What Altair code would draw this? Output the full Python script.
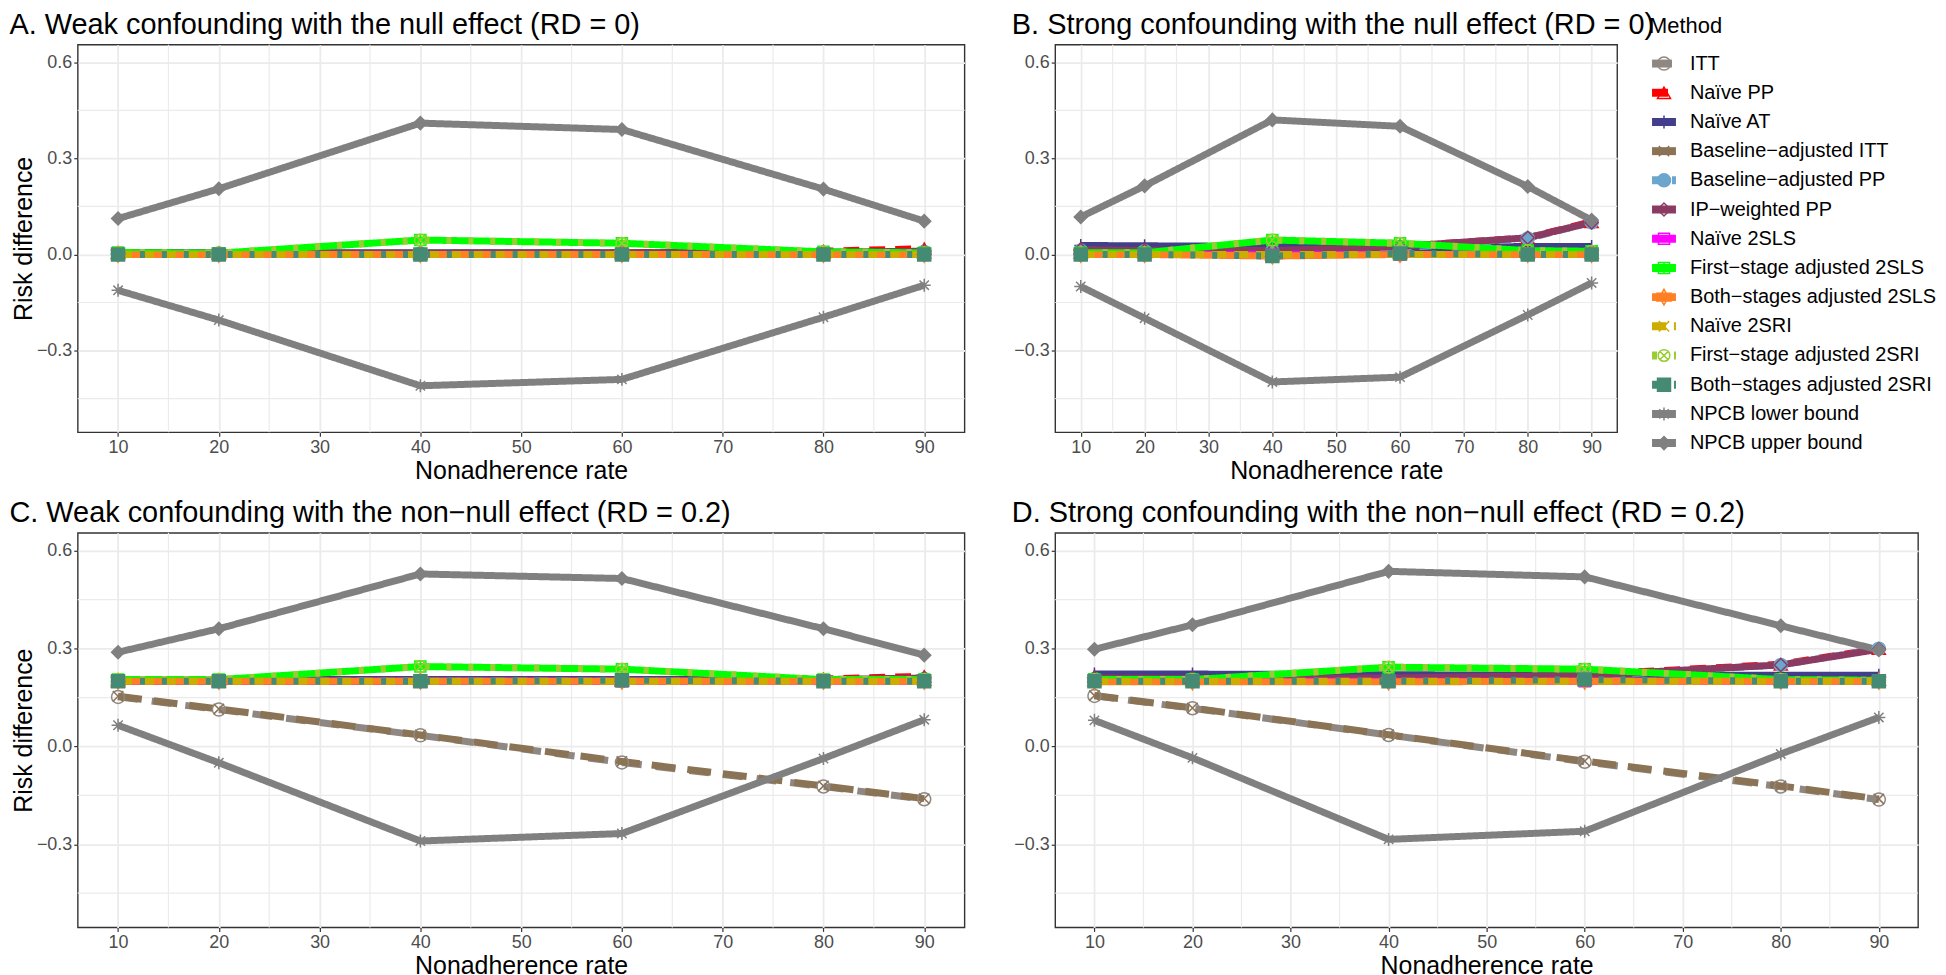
import altair as alt
import pandas as pd

# ---------------- data ----------------
rates = [10, 20, 40, 60, 80, 90]
methods = [
    "ITT", "Naïve PP", "Naïve AT", "Baseline−adjusted ITT", "Baseline−adjusted PP",
    "IP−weighted PP", "Naïve 2SLS", "First−stage adjusted 2SLS", "Both−stages adjusted 2SLS",
    "Naïve 2SRI", "First−stage adjusted 2SRI", "Both−stages adjusted 2SRI",
    "NPCB lower bound", "NPCB upper bound",
]
x_ticks = [10, 20, 30, 40, 50, 60, 70, 80, 90]
x_minor = [15, 25, 35, 45, 55, 65, 75, 85]
y_ticks = [-0.3, 0.0, 0.3, 0.6]
y_minor = [-0.45, -0.15, 0.15, 0.45]

panel_a = {
    "ITT": [0.0, 0.0, 0.0, 0.0, 0.0, 0.0],
    "Naïve PP": [0.005, 0.003, 0.003, 0.005, 0.010, 0.018],
    "Naïve AT": [0.005, 0.005, 0.005, 0.005, 0.005, 0.005],
    "Baseline−adjusted ITT": [0.0, 0.0, 0.0, 0.0, 0.0, 0.0],
    "Baseline−adjusted PP": [0.003, 0.003, 0.003, 0.003, 0.005, 0.008],
    "IP−weighted PP": [0.004, 0.003, 0.004, 0.005, 0.007, 0.010],
    "Naïve 2SLS": [0.0, 0.0, 0.0, 0.0, 0.0, 0.0],
    "First−stage adjusted 2SLS": [0.006, 0.004, 0.045, 0.035, 0.008, 0.005],
    "Both−stages adjusted 2SLS": [0.0, 0.0, 0.0, 0.0, 0.0, 0.0],
    "Naïve 2SRI": [0.0, 0.0, 0.0, 0.0, 0.0, 0.0],
    "First−stage adjusted 2SRI": [0.006, 0.004, 0.045, 0.035, 0.008, 0.005],
    "Both−stages adjusted 2SRI": [0.0, 0.0, 0.0, 0.0, 0.0, 0.0],
    "NPCB lower bound": [-0.112, -0.205, -0.410, -0.390, -0.196, -0.096],
    "NPCB upper bound": [0.112, 0.205, 0.410, 0.390, 0.204, 0.104],
}

panel_b = {
    "ITT": [0.0, 0.0, 0.0, 0.0, 0.0, 0.0],
    "Naïve PP": [0.020, 0.018, 0.012, 0.025, 0.052, 0.102],
    "Naïve AT": [0.028, 0.027, 0.025, 0.020, 0.025, 0.025],
    "Baseline−adjusted ITT": [0.0, 0.0, 0.0, 0.0, 0.0, 0.0],
    "Baseline−adjusted PP": [0.012, 0.010, 0.010, 0.020, 0.050, 0.100],
    "IP−weighted PP": [0.015, 0.012, 0.012, 0.025, 0.052, 0.100],
    "Naïve 2SLS": [0.0, 0.0, 0.0, 0.0, 0.0, 0.0],
    "First−stage adjusted 2SLS": [0.005, 0.005, 0.045, 0.035, 0.012, 0.010],
    "Both−stages adjusted 2SLS": [0.0, 0.0, -0.005, 0.0, 0.0, 0.0],
    "Naïve 2SRI": [0.0, 0.0, 0.0, 0.0, 0.0, 0.0],
    "First−stage adjusted 2SRI": [0.005, 0.005, 0.045, 0.035, 0.012, 0.010],
    "Both−stages adjusted 2SRI": [0.0, 0.0, -0.005, 0.003, 0.0, 0.0],
    "NPCB lower bound": [-0.100, -0.199, -0.398, -0.383, -0.189, -0.089],
    "NPCB upper bound": [0.117, 0.214, 0.420, 0.400, 0.212, 0.107],
}

panel_c = {
    "ITT": [0.152, 0.113, 0.034, -0.049, -0.123, -0.162],
    "Naïve PP": [0.200, 0.200, 0.200, 0.202, 0.207, 0.215],
    "Naïve AT": [0.205, 0.205, 0.205, 0.205, 0.205, 0.205],
    "Baseline−adjusted ITT": [0.154, 0.115, 0.035, -0.046, -0.121, -0.160],
    "Baseline−adjusted PP": [0.200, 0.200, 0.200, 0.200, 0.203, 0.207],
    "IP−weighted PP": [0.200, 0.200, 0.200, 0.200, 0.205, 0.210],
    "Naïve 2SLS": [0.200, 0.200, 0.200, 0.200, 0.200, 0.200],
    "First−stage adjusted 2SLS": [0.205, 0.205, 0.245, 0.237, 0.205, 0.205],
    "Both−stages adjusted 2SLS": [0.200, 0.200, 0.200, 0.200, 0.200, 0.200],
    "Naïve 2SRI": [0.200, 0.200, 0.200, 0.200, 0.200, 0.200],
    "First−stage adjusted 2SRI": [0.205, 0.205, 0.245, 0.237, 0.205, 0.205],
    "Both−stages adjusted 2SRI": [0.200, 0.200, 0.200, 0.203, 0.200, 0.200],
    "NPCB lower bound": [0.065, -0.050, -0.290, -0.267, -0.037, 0.082],
    "NPCB upper bound": [0.289, 0.361, 0.529, 0.515, 0.361, 0.280],
}

panel_d = {
    "ITT": [0.155, 0.117, 0.035, -0.047, -0.123, -0.163],
    "Naïve PP": [0.215, 0.212, 0.212, 0.220, 0.252, 0.300],
    "Naïve AT": [0.222, 0.222, 0.220, 0.218, 0.218, 0.218],
    "Baseline−adjusted ITT": [0.156, 0.118, 0.036, -0.045, -0.121, -0.161],
    "Baseline−adjusted PP": [0.207, 0.205, 0.207, 0.215, 0.250, 0.300],
    "IP−weighted PP": [0.210, 0.208, 0.210, 0.218, 0.250, 0.298],
    "Naïve 2SLS": [0.200, 0.200, 0.200, 0.200, 0.200, 0.200],
    "First−stage adjusted 2SLS": [0.205, 0.205, 0.243, 0.237, 0.205, 0.203],
    "Both−stages adjusted 2SLS": [0.198, 0.198, 0.198, 0.200, 0.200, 0.200],
    "Naïve 2SRI": [0.200, 0.200, 0.200, 0.200, 0.200, 0.200],
    "First−stage adjusted 2SRI": [0.205, 0.205, 0.243, 0.237, 0.205, 0.203],
    "Both−stages adjusted 2SRI": [0.200, 0.200, 0.200, 0.205, 0.200, 0.200],
    "NPCB lower bound": [0.080, -0.035, -0.285, -0.260, -0.023, 0.089],
    "NPCB upper bound": [0.298, 0.373, 0.537, 0.520, 0.370, 0.296],
}

titles = [
    "A. Weak confounding with the null effect (RD = 0)",
    "B. Strong confounding with the null effect (RD = 0)",
    "C. Weak confounding with the non−null effect (RD = 0.2)",
    "D. Strong confounding with the non−null effect (RD = 0.2)",
]

# ---------------- styles ----------------
FONT = "Liberation Sans"
GRID = "#ebebeb"
colors = ["#8f8782", "#ff0000", "#433e8c", "#8b7355", "#6ca6cd", "#8b3a62", "#ff00ff",
          "#00ff00", "#ff7f24", "#cdad00", "#9acd32", "#458b74", "#808080", "#808080"]
PLUS = "M-1,0L1,0M0,-1L0,1"
XP = "M-0.8,-0.8L0.8,0.8M-0.8,0.8L0.8,-0.8"
AST = "M-1,0L1,0M0,-1L0,1M-0.72,-0.72L0.72,0.72M-0.72,0.72L0.72,-0.72"
STAR = "M0,-1.2L1.04,0.6L-1.04,0.6ZM0,1.2L1.04,-0.6L-1.04,-0.6Z"
SQ = "M-0.85,-0.85L0.85,-0.85L0.85,0.85L-0.85,0.85Z"
SQPLUS = "M-0.85,-0.85L0.85,-0.85L0.85,0.85L-0.85,0.85ZM-0.85,0L0.85,0M0,-0.85L0,0.85"
CIRCX = "M0.9,0A0.9,0.9,0,1,1,-0.9,0A0.9,0.9,0,1,1,0.9,0ZM-0.64,-0.64L0.64,0.64M-0.64,0.64L0.64,-0.64"
shapes = ["circle", "triangle-up", PLUS, XP, "circle", "diamond", SQ, SQPLUS, STAR, XP,
          CIRCX, "square", AST, "diamond"]
T = "transparent"
fills = [T, T, T, T, "#6ca6cd", T, T, T, T, T, T, "#458b74", T, "#808080"]
dashes = [[20, 14], [16, 10], [1, 0], [24, 12], [12, 8], [1, 0], [1, 0], [1, 0], [1, 0],
          [14, 8], [5, 17], [5, 17], [1, 0], [1, 0]]

color_scale = alt.Scale(domain=methods, range=colors)
shape_scale = alt.Scale(domain=methods, range=shapes)
fill_scale = alt.Scale(domain=methods, range=fills)
dash_scale = alt.Scale(domain=methods, range=dashes)

XS = alt.Scale(domain=[6, 94], nice=False, zero=False)
YS = alt.Scale(domain=[-0.555, 0.655], nice=False, zero=False)


def make_panel(vals, title, show_ytitle, w, h):
    rows = [{"Method": m, "rate": r, "rd": v}
            for m in methods for r, v in zip(rates, vals[m])]
    df = pd.DataFrame(rows)
    xaxis = alt.Axis(values=x_ticks, format="d", title="Nonadherence rate", grid=True,
                     titlePadding=2)
    if show_ytitle:
        yaxis = alt.Axis(values=y_ticks, format=".1f", title="Risk difference", grid=True,
                         titlePadding=0)
    else:
        yaxis = alt.Axis(values=y_ticks, format=".1f", title=None, grid=True)

    gx = alt.Chart(pd.DataFrame({"g": x_minor})).mark_rule(
        color=GRID, strokeWidth=1.2).encode(x=alt.X("g:Q", scale=XS, axis=xaxis))
    gy = alt.Chart(pd.DataFrame({"g": y_minor})).mark_rule(
        color=GRID, strokeWidth=1.2).encode(y=alt.Y("g:Q", scale=YS, axis=yaxis))

    lines = alt.Chart(df).mark_line(strokeWidth=7, strokeJoin="round", strokeCap="butt").encode(
        x=alt.X("rate:Q", scale=XS, axis=xaxis),
        y=alt.Y("rd:Q", scale=YS, axis=yaxis),
        color=alt.Color("Method:N", scale=color_scale, legend=None),
        strokeDash=alt.StrokeDash("Method:N", scale=dash_scale, legend=None),
    )
    pts = alt.Chart(df).mark_point(size=170, strokeWidth=1.5, opacity=1).encode(
        x=alt.X("rate:Q", scale=XS, axis=xaxis),
        y=alt.Y("rd:Q", scale=YS, axis=yaxis),
        shape=alt.Shape("Method:N", scale=shape_scale, legend=None),
        stroke=alt.Stroke("Method:N", scale=color_scale, legend=None),
        fill=alt.Fill("Method:N", scale=fill_scale, legend=None),
    )
    return alt.layer(gx, gy, lines, pts).properties(
        width=w, height=h, title=alt.TitleParams(title, anchor="start", dx=-2))


A = make_panel(panel_a, titles[0], True, 890, 389)
B = make_panel(panel_b, titles[1], False, 564, 389)
C = make_panel(panel_c, titles[2], True, 890, 396)
D = make_panel(panel_d, titles[3], False, 866, 396)

# ---------------- manual legend ----------------
leg_df = pd.DataFrame({"Method": methods, "idx": list(range(len(methods)))})
row_px = 29.3
top_off = 19
LH = 420
ly = alt.Y("idx:Q", axis=None,
           scale=alt.Scale(domain=[-top_off / row_px, (LH - top_off) / row_px],
                           reverse=True, nice=False, zero=False))
leg_line = alt.Chart(leg_df).mark_rule(strokeWidth=8, strokeCap="butt").encode(
    x=alt.value(25), x2=alt.value(49), y=ly,
    color=alt.Color("Method:N", scale=color_scale, legend=None),
    strokeDash=alt.StrokeDash("Method:N", scale=dash_scale, legend=None),
)
leg_pts = alt.Chart(leg_df).mark_point(size=170, strokeWidth=1.5, opacity=1).encode(
    x=alt.value(37), y=ly,
    shape=alt.Shape("Method:N", scale=shape_scale, legend=None),
    stroke=alt.Stroke("Method:N", scale=color_scale, legend=None),
    fill=alt.Fill("Method:N", scale=fill_scale, legend=None),
)
leg_txt = alt.Chart(leg_df).mark_text(align="left", baseline="middle", fontSize=20,
                                      font=FONT, color="black").encode(
    x=alt.value(63), y=ly, text="Method:N")
legend = alt.layer(leg_line, leg_pts, leg_txt).properties(
    width=270, height=LH,
    view=alt.ViewBackground(stroke="transparent"),
    title=alt.TitleParams("Method", anchor="start", fontSize=22, dx=22, dy=-3),
)

top = alt.hconcat(A, alt.hconcat(B, legend, spacing=10, bounds="flush"), spacing=44)
bottom = alt.hconcat(C, D, spacing=44)

chart = alt.vconcat(top, bottom, spacing=14).properties(
    padding={"left": 0, "top": 0, "right": 0, "bottom": 0}
).configure_view(
    stroke="#333333", strokeWidth=1.4
).configure_axis(
    labelFont=FONT, titleFont=FONT, labelFontSize=18, labelColor="#4d4d4d",
    titleFontSize=25, titleFontWeight="normal", titleColor="black",
    tickColor="#333333", tickSize=4, tickWidth=1.2, labelPadding=2,
    gridColor=GRID, gridWidth=1.8, domain=False,
).configure_title(
    font=FONT, fontSize=29, fontWeight="normal", color="black", anchor="start", offset=0,
)

chart.save("out.html", embed_options={"renderer": "svg", "actions": False})
